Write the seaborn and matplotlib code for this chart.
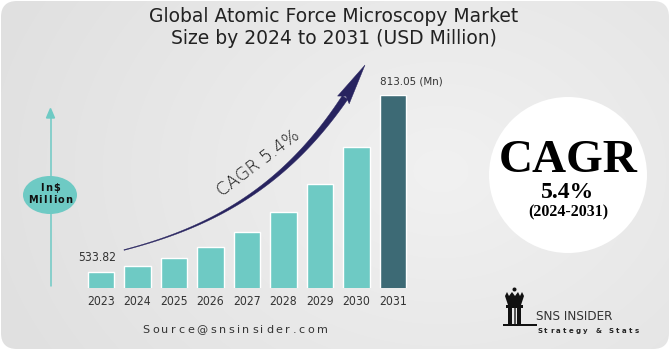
import numpy as np
import matplotlib
matplotlib.use("Agg")
import matplotlib.pyplot as plt
import seaborn as sns
import pandas as pd
from matplotlib.patches import FancyBboxPatch, Ellipse, Polygon, Rectangle
from matplotlib import font_manager as fm

# ---------------- data ----------------
years = ["2023", "2024", "2025", "2026", "2027", "2028", "2029", "2030", "2031"]
market_size = [533.82, 543.3, 556.0, 573.3, 596.5, 628.2, 672.4, 731.8, 813.05]
bar_colors = ["#6ecac4"] * 8 + ["#3d6a75"]
first_label = "533.82"
last_label = "813.05 (Mn)"
title_lines = ["Global Atomic Force Microscopy Market",
               "Size by 2024 to 2031 (USD Million)"]
cagr_arrow_text = "CAGR 5.4%"
cagr_big = "CAGR"
cagr_value = "5.4%"
cagr_period = "(2024-2031)"
unit_lines = ["In$", "Million"]
source_text = "Source@snsinsider.com"
brand = "SNS INSIDER"
brand_sub = "Strategy & Stats"

sns.set_theme(style="white")
plt.rcParams["font.family"] = ["DejaVu Sans"]

# pick a narrow font if one is installed
_names = {f.name for f in fm.fontManager.ttflist}
_cond = [f for f in fm.fontManager.ttflist
         if f.name == "DejaVu Sans" and f.stretch == "condensed"]
if "Liberation Sans Narrow" in _names:
    NARROW = dict(family=["Liberation Sans Narrow", "DejaVu Sans"])
    NSCALE = 1.0
elif _cond:
    NARROW = dict(family=["DejaVu Sans"], fontstretch="condensed")
    NSCALE = 0.92
else:
    NARROW = dict(family=["DejaVu Sans"])
    NSCALE = 0.86

W, H = 670, 350
fig = plt.figure(figsize=(W / 100, H / 100), dpi=100)
fig.patch.set_facecolor("white")

# ---------------- background ----------------
ax_bg = fig.add_axes([0, 0, 1, 1], zorder=0)
ax_bg.set_xlim(0, W)
ax_bg.set_ylim(H, 0)
ax_bg.axis("off")

yy, xx = np.mgrid[0:H:2, 0:W:2]
r = np.sqrt(((xx - 440) / 360.0) ** 2 + ((yy - 170) / 280.0) ** 2)
shade = 0.945 - 0.05 * np.clip(r, 0, 1.3)
img = ax_bg.imshow(np.dstack([shade, shade, shade]), extent=(0, W, H, 0),
                   interpolation="bilinear", zorder=0)
card = FancyBboxPatch((1, 1), W - 2, H - 2,
                      boxstyle="round,pad=0,rounding_size=16",
                      transform=ax_bg.transData, facecolor="none",
                      edgecolor="none")
ax_bg.add_patch(card)
img.set_clip_path(card)

# ---------------- bars ----------------
px_left, px_right = 82.75, 82.75 + 328.5
px_base, px_top = 288.3, 95.3
ax = fig.add_axes([px_left / W, (H - px_base) / H,
                   (px_right - px_left) / W, (px_base - px_top) / H], zorder=1)
ax.patch.set_alpha(0)
df = pd.DataFrame({"year": years, "value": market_size})
sns.barplot(data=df, x="year", y="value", hue="year", palette=bar_colors,
            width=0.72, legend=False, ax=ax, saturation=1)
ax.set_xlim(-0.5, len(years) - 0.5)
ax.set_ylim(508.07, 813.05)
for s in ax.spines.values():
    s.set_visible(False)
ax.set_yticks([])
ax.set_xlabel("")
ax.set_ylabel("")
ax.tick_params(axis="x", length=0, pad=5)
for lab in ax.get_xticklabels():
    lab.set_fontfamily(NARROW["family"])
    if "fontstretch" in NARROW:
        lab.set_fontstretch(NARROW["fontstretch"])
    lab.set_fontsize(9.5 * NSCALE)
    lab.set_color("#333333")

ax.annotate(first_label, xy=(0, market_size[0]), xytext=(-3, 6),
            textcoords="offset points", ha="center", va="bottom",
            fontsize=9.5 * NSCALE, color="#333333", annotation_clip=False,
            **NARROW)
ax.annotate(last_label, xy=(len(years) - 1, market_size[-1]), xytext=(-9, 6),
            textcoords="offset points", ha="left", va="bottom",
            fontsize=9.0 * NSCALE, color="#333333", annotation_clip=False,
            **NARROW)

# ---------------- overlay ----------------
ax_t = fig.add_axes([0, 0, 1, 1], zorder=2)
ax_t.set_xlim(0, W)
ax_t.set_ylim(H, 0)
ax_t.axis("off")
ax_t.patch.set_alpha(0)

# title
ax_t.text(334, 17, title_lines[0], ha="center", va="center", fontsize=13.5,
          color="#222222")
ax_t.text(334, 38, title_lines[1], ha="center", va="center", fontsize=13.5,
          color="#222222")

# curved tapered arrow
P = np.array([[124, 250], [220, 225], [300, 180], [365, 65]], float)
t = np.linspace(0, 0.9, 120)
def bez(t):
    t = t[:, None]
    return ((1 - t) ** 3) * P[0] + 3 * ((1 - t) ** 2) * t * P[1] + \
        3 * (1 - t) * t ** 2 * P[2] + t ** 3 * P[3]
def dbez(t):
    t = t[:, None]
    return 3 * ((1 - t) ** 2) * (P[1] - P[0]) + 6 * (1 - t) * t * (P[2] - P[1]) + \
        3 * t ** 2 * (P[3] - P[2])
pts = bez(t)
d = dbez(t)
d = d / np.linalg.norm(d, axis=1)[:, None]
n = np.stack([-d[:, 1], d[:, 0]], axis=1)
hw = 0.35 + 3.0 * (t / 0.9) ** 1.6
left = pts + n * hw[:, None]
right = pts - n * hw[:, None]
navy = "#27235f"
ax_t.add_patch(Polygon(np.vstack([left, right[::-1]]), closed=True,
                       facecolor=navy, edgecolor=navy, lw=0.3))
tip = P[3]
base = pts[-1]
dd = d[-1]
nn = n[-1]
head = [tip, base + nn * 7.0 - dd * 3, base + dd * 1.5, base - nn * 7.0 - dd * 3]
ax_t.add_patch(Polygon(head, closed=True, facecolor=navy, edgecolor=navy, lw=0.3))
ax_t.text(258, 163, cagr_arrow_text, rotation=37, rotation_mode="anchor",
          ha="center", va="center", fontsize=12.5, fontweight="light",
          color="#111111")

# left unit arrow
teal = "#6ecac4"
ax_t.plot([50.5, 50.5], [116, 286], color=teal, lw=1.1)
ax_t.add_patch(Polygon([[50.5, 108.5], [46.5, 118], [54.5, 118]], closed=True,
                       facecolor=teal, edgecolor=teal))
ax_t.add_patch(Ellipse((50, 195), 54, 38, facecolor=teal, edgecolor="none"))

fig.canvas.draw()
rend = fig.canvas.get_renderer()

def spaced_text(axx, xc, y, s, track, **kw):
    widths = []
    for ch in s:
        if ch == " ":
            tmp = axx.text(0, 0, "n", **kw)
            widths.append(tmp.get_window_extent(rend).width * 0.6)
        else:
            tmp = axx.text(0, 0, ch, **kw)
            widths.append(tmp.get_window_extent(rend).width)
        tmp.remove()
    total = sum(widths) + track * (len(s) - 1)
    x = xc - total / 2
    for ch, w in zip(s, widths):
        if ch != " ":
            axx.text(x, y, ch, ha="left", va="center", **kw)
        x += w + track

spaced_text(ax_t, 50, 188, unit_lines[0], 1.2, fontsize=7, fontweight="bold",
            color="#111111")
spaced_text(ax_t, 50, 200, unit_lines[1], 1.2, fontsize=7, fontweight="bold",
            color="#111111")

# source
spaced_text(ax_t, 235, 330, source_text, 2.6, fontsize=8, color="#333333")

# right CAGR circle
ax_t.add_patch(Ellipse((568, 175), 158, 156, facecolor="white", edgecolor="none"))
SERIF = ["Liberation Serif", "DejaVu Serif"]
ax_t.text(568, 161, cagr_big, ha="center", va="center", fontsize=34,
          fontweight="bold", family=SERIF, color="#000000")
ax_t.text(568, 193, cagr_value, ha="center", va="center", fontsize=17,
          fontweight="bold", family=SERIF, color="#000000")
ax_t.text(568, 212, cagr_period, ha="center", va="center", fontsize=11.5,
          fontweight="bold", family=SERIF, color="#000000")

# logo
dark = "#111111"
ax_t.add_patch(Polygon([[505, 296], [507, 292], [509, 296], [512, 292], [515, 296],
                        [518, 292], [520, 296], [522, 292], [524, 296],
                        [521, 305], [508, 305]], closed=True,
                       facecolor=dark, edgecolor="none"))
ax_t.add_patch(Ellipse((514.5, 289.5), 4, 4, facecolor=dark, edgecolor="none"))
ax_t.add_patch(Rectangle((506, 305), 17, 3, facecolor=dark, edgecolor="none"))
ax_t.add_patch(Rectangle((508, 308), 4, 16, facecolor=dark, edgecolor="none"))
ax_t.add_patch(Rectangle((514, 308), 2, 16, facecolor="#555555", edgecolor="none"))
ax_t.add_patch(Rectangle((517, 308), 4, 16, facecolor=dark, edgecolor="none"))
ax_t.add_patch(Rectangle((503, 324), 34, 1.6, facecolor=dark, edgecolor="none"))
ax_t.text(536, 317, brand, ha="left", va="center", fontsize=10.5 * NSCALE,
          color="#333333", **NARROW)
spaced_text(ax_t, 588, 331, brand_sub, 2.3, fontsize=5, fontweight="bold",
            color="#222222")

fig.savefig("out.png", dpi=100, facecolor="white")
